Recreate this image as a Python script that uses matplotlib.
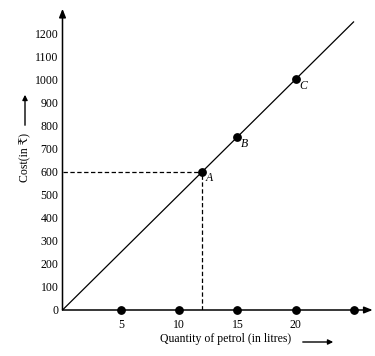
import matplotlib
matplotlib.use("Agg")
import matplotlib.pyplot as plt

plt.rcParams['font.family'] = ['Liberation Serif', 'DejaVu Serif']

# Data
quantity = [12, 15, 20]
cost = [600, 750, 1000]
point_labels = ['A', 'B', 'C']
line_x = [0, 25]
line_y = [0, 1250]
axis_dots = [5, 10, 15, 20, 25]
xticks = [5, 10, 15, 20]
yticks = list(range(0, 1300, 100))
x_label = "Quantity of petrol (in litres)"
y_label = "Cost(in \u20b9)"

W, H = 375, 356
fig = plt.figure(figsize=(W / 100, H / 100), dpi=100)
ax = fig.add_axes([62.5 / W, 46 / H, (W - 62.5) / W, 310 / H])
ax.set_xlim(0, (W - 62.5) / 11.66)
ax.set_ylim(0, 310 / 0.2308)
for s in ax.spines.values():
    s.set_visible(False)
ax.patch.set_alpha(0)

# axes with arrows
ax.annotate('', xy=(26.6, 0), xytext=(0, 0),
            arrowprops=dict(arrowstyle='-|>,head_length=0.5,head_width=0.2', lw=1.1, color='black',
                            shrinkA=0, shrinkB=0), annotation_clip=False)
ax.annotate('', xy=(0, 1305), xytext=(0, 0),
            arrowprops=dict(arrowstyle='-|>,head_length=0.5,head_width=0.2', lw=1.1, color='black',
                            shrinkA=0, shrinkB=0), annotation_clip=False)

# main line
ax.plot(line_x, line_y, color='black', lw=0.9, solid_capstyle='butt')

# dashed guides to A
ax.plot([0, quantity[0]], [cost[0], cost[0]], color='black', lw=0.9, ls=(0, (3.5, 2)))
ax.plot([quantity[0], quantity[0]], [0, cost[0]], color='black', lw=0.9, ls=(0, (3.5, 2)))

# points
ax.plot(quantity, cost, 'o', color='black', ms=5.3, clip_on=False)
ax.plot(axis_dots, [0] * len(axis_dots), 'o', color='black', ms=5.3, clip_on=False)
for qx, cy, lab in zip(quantity, cost, point_labels):
    ax.annotate(lab, (qx, cy), xytext=(2.5, -5), textcoords='offset points',
                fontsize=8.5, style='italic', va='center', ha='left')

ax.set_xticks(xticks)
ax.set_xticklabels([str(v) for v in xticks])
ax.set_yticks(yticks)
ax.set_yticklabels([str(v) for v in yticks])
ax.tick_params(axis='both', length=0, labelsize=8.5)
ax.tick_params(axis='x', pad=6.5)
ax.tick_params(axis='y', pad=3)

# axis labels with arrows
fig.text(226 / W, 1 - 339 / H, x_label, ha='center', va='center', fontsize=8.5)
fig.add_artist(matplotlib.patches.FancyArrowPatch(
    (300 / W, 1 - 342 / H), (336 / W, 1 - 342 / H), transform=fig.transFigure,
    arrowstyle='-|>,head_length=3,head_width=1.5', lw=1.0, color='black'))
fig.text(25 / W, 1 - 157 / H, y_label, ha='center', va='center', rotation=90, fontsize=8.5)
fig.add_artist(matplotlib.patches.FancyArrowPatch(
    (25 / W, 1 - 128 / H), (25 / W, 1 - 92 / H), transform=fig.transFigure,
    arrowstyle='-|>,head_length=3,head_width=1.5', lw=1.0, color='black'))

fig.savefig('out.png', dpi=100)
